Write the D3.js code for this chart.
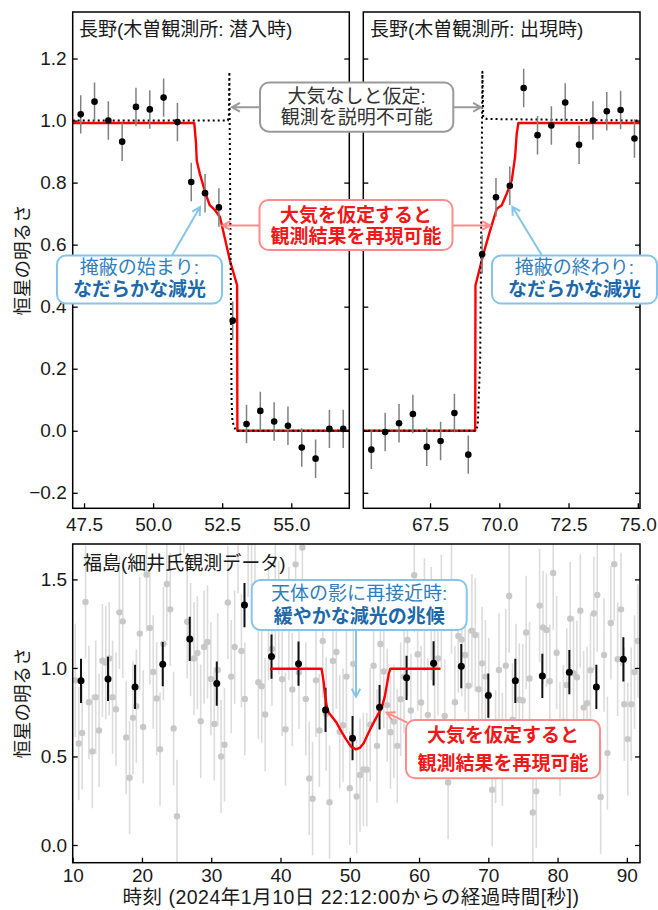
<!DOCTYPE html>
<html><head><meta charset="utf-8">
<script src="https://cdn.jsdelivr.net/npm/d3@7"></script>
<style>
body{margin:0;background:#fff}
svg{display:block}
text{font-family:"Liberation Sans","Noto Sans CJK JP",sans-serif}
</style>
</head><body>
<svg id="c" width="658" height="910"></svg>
<script>
// ---------------- data ----------------
// Nagano (Kiso) ingress
const ingressT = [47.38,47.88,48.38,48.88,49.38,49.88,50.38,50.88,51.38,51.88,52.38,52.88,53.38,53.88,54.38,54.88,55.38,55.88,56.38,56.88];
const ingressY = [1.020,1.061,1.000,0.932,1.044,1.036,1.074,0.995,0.802,0.766,0.720,0.355,0.022,0.064,0.030,0.016,-0.054,-0.090,0.006,0.006];
const ingressErr = [0.062,0.062,0.062,0.062,0.062,0.062,0.062,0.062,0.062,0.062,0.062,0.062,0.062,0.062,0.062,0.062,0.062,0.062,0.062,0.062];
const ingressModelT = [47.09,51.49,51.55,51.58,51.69,51.90,52.05,52.24,52.42,52.78,53.04,53.05,57.10];
const ingressModelV = [0.992,0.992,0.93,0.87,0.829,0.764,0.727,0.711,0.689,0.549,0.469,0.0,0.0];
const ingressNoAtmT = [47.09,52.70,52.74,52.76,52.80,52.84,52.87,52.99,57.10];
const ingressNoAtmV = [1.0,1.0,1.01,1.157,0.6,0.1,0.03,0.0,0.0];
// Nagano (Kiso) egress
const egressT = [65.38,65.88,66.38,66.88,67.38,67.88,68.38,68.88,69.38,69.88,70.38,70.88,71.38,71.88,72.38,72.88,73.38,73.88,74.38,74.88];
const egressY = [-0.061,-0.004,0.024,0.054,-0.052,-0.033,0.057,-0.077,0.569,0.753,0.790,1.105,0.953,0.984,1.058,0.922,1.000,1.030,1.034,0.942];
const egressErr = [0.062,0.062,0.062,0.062,0.062,0.062,0.062,0.062,0.062,0.062,0.062,0.062,0.062,0.062,0.062,0.062,0.062,0.062,0.062,0.062];
const egressModelT = [65.09,69.13,69.14,69.43,69.67,69.91,70.09,70.27,70.45,70.57,70.63,70.69,75.08];
const egressModelV = [0.0,0.0,0.469,0.571,0.646,0.716,0.727,0.765,0.807,0.883,0.958,0.992,0.992];
const egressNoAtmT = [65.09,69.15,69.22,69.31,69.36,69.39,69.42,69.55,75.08];
const egressNoAtmV = [0.0,0.0,0.016,0.23,0.8,1.157,1.01,1.005,1.0];
// Fukushima (Hosoi) raw
const rawT = [10.38,10.87,11.36,11.85,12.34,12.83,13.32,13.81,14.29,14.78,15.27,15.76,16.25,16.74,17.23,17.72,18.21,18.70,19.19,19.68,
20.17,20.66,21.14,21.63,22.12,22.61,23.10,23.59,24.08,24.57,25.06,25.55,26.04,26.53,27.02,27.51,28.00,28.48,28.97,29.46,
29.95,30.44,30.93,31.42,31.91,32.40,32.89,33.38,33.87,34.36,34.85,35.33,35.82,36.31,36.80,37.29,37.78,38.27,38.76,39.25,
39.74,40.23,40.72,41.21,41.70,42.18,42.67,43.16,43.65,44.14,44.63,45.12,45.61,46.10,46.59,47.08,47.57,48.06,48.55,49.03,
49.52,50.01,50.50,50.99,51.48,51.97,52.46,52.95,53.44,53.93,54.42,54.91,55.40,55.88,56.37,56.86,57.35,57.84,58.33,58.82,
59.31,59.80,60.29,60.78,61.27,61.76,62.25,62.73,63.22,63.71,64.20,64.69,65.18,65.67,66.16,66.65,67.14,67.63,68.12,68.61,
69.10,69.58,70.07,70.56,71.05,71.54,72.03,72.52,73.01,73.50,73.99,74.48,74.97,75.46,75.95,76.43,76.92,77.41,77.90,78.39,
78.88,79.37,79.86,80.35,80.84,81.33,81.82,82.31,82.79,83.28,83.77,84.26,84.75,85.24,85.73,86.22,86.71,87.20,87.69,88.18,
88.67,89.16,89.64,90.13,90.62,91.11,91.60];
const rawY = [0.93,0.573,0.633,1.372,0.806,0.528,0.835,0.647,1.041,1.030,1.053,0.835,0.767,1.314,1.263,0.607,0.380,0.718,0.784,1.194,
0.667,1.526,1.226,0.977,0.827,0.541,1.137,1.474,1.331,0.658,0.162,1.92,1.97,1.261,1.16,1.053,1.085,0.699,1.118,1.147,
0.938,0.684,0.989,0.50,0.566,1.370,0.951,1.118,1.74,1.096,0.825,1.72,1.76,1.73,0.919,0.897,0.737,1.25,1.107,1.38,
1.285,0.936,0.654,1.25,0.878,1.585,0.976,1.680,0.825,0.376,0.261,0.93,0.647,1.152,0.74,0.242,1.039,1.09,0.639,0.677,
0.951,0.321,1.023,0.274,0.395,0.427,0.425,0.68,1.013,0.56,1.135,0.98,0.79,0.637,0.697,0.56,0.823,0.951,1.158,0.76,
1.524,1.077,0.805,1.30,0.735,1.25,1.02,1.053,1.32,0.729,0.353,1.40,0.806,1.18,1.16,1.073,0.90,1.21,1.186,0.88,
1.026,0.951,0.85,0.312,0.556,0.989,0.54,1.013,1.406,0.707,0.93,0.82,0.816,1.20,0.94,0.184,0.303,1.352,1.229,1.214,
0.925,1.536,1.086,0.60,0.697,0.904,1.278,0.97,0.947,1.323,0.776,0.801,0.987,1.308,1.412,0.271,1.073,0.519,1.254,1.586,
1.049,1.331,0.795,0.598,0.795,0.977,1.152];
const rawErr = 0.32;
// Fukushima binned
const binT = [11.2,15.1,19.0,23.0,26.9,30.8,34.8,38.7,42.6,46.5,50.4,54.3,58.2,62.1,66.1,70.0,73.9,77.8,81.7,85.6,89.5];
const binY = [0.927,0.938,0.893,1.021,1.164,0.912,1.355,1.064,1.024,0.763,0.603,0.778,0.944,1.026,1.010,0.844,0.927,0.955,0.976,0.893,1.049];
const binErr = 0.125;
const fukuModelT = [38.47,45.93,46.2,46.45,46.7,47.0,47.6,48.1,48.8,49.5,50.2,50.9,51.5,52.0,52.9,53.9,54.6,55.05,55.4,55.65,55.85,63.1];
const fukuModelV = [0.995,0.995,0.93,0.84,0.78,0.745,0.716,0.69,0.64,0.595,0.555,0.54,0.55,0.575,0.65,0.725,0.773,0.838,0.914,0.97,0.995,0.995];
// ticks / labels
const topYTicks = [-0.2,0.0,0.2,0.4,0.6,0.8,1.0,1.2];
const ingressXTicks = [47.5,50.0,52.5,55.0];
const egressXTicks = [67.5,70.0,72.5,75.0];
const botXTicks = [10,20,30,40,50,60,70,80,90];
const botYTicks = [0.0,0.5,1.0,1.5];
const titles = ["長野(木曽観測所: 潜入時)","長野(木曽観測所: 出現時)","福島(細井氏観測データ)"];
const yLabel = "恒星の明るさ";
const xLabel = "時刻 (2024年1月10日 22:12:00からの経過時間[秒])";

// ---------------- drawing ----------------
const svg = d3.select("#c");
const FS = 19;
const TXT = "#1a1a1a";

const yT = d3.scaleLinear().domain([-0.25,1.35]).range([508.3,12]);
const xL = d3.scaleLinear().domain([47.09,57.10]).range([72.7,349.3]);
const xR = d3.scaleLinear().domain([65.09,75.08]).range([363.3,640]);
const xB = d3.scaleLinear().domain([10,91.9]).range([72.7,640]);
const yB = d3.scaleLinear().domain([-0.1,1.7]).range([862.7,544]);

const defs = svg.append("defs");
let clipN = 0;
function makeClip(x, y){
  const id = "clip"+(clipN++);
  const [x0,x1] = x.range(), [y1,y0] = y.range();
  defs.append("clipPath").attr("id",id).append("rect")
    .attr("x",x0).attr("y",y0).attr("width",x1-x0).attr("height",y1-y0);
  return id;
}
function styleAxis(g){
  g.select(".domain").remove();
  g.selectAll(".tick line").attr("stroke","#000").attr("stroke-width",1.3);
  g.selectAll(".tick text").attr("font-size",FS).attr("fill",TXT)
    .attr("font-family",'"Liberation Sans","Noto Sans CJK JP",sans-serif');
}
function axes(x, y, xt, yt, showY, yPad, xPad){
  const [x0,x1] = x.range(), [y1,y0] = y.range();
  const f = d3.format(".1f");
  svg.append("g").attr("transform",`translate(0,${y1})`)
    .call(d3.axisBottom(x).tickValues(xt).tickFormat(xt[0]>=10 && xt[1]-xt[0]===10 ? d3.format("d") : f).tickSize(-5).tickPadding(xPad))
    .call(styleAxis);
  svg.append("g").attr("transform",`translate(${x0},0)`)
    .call(d3.axisLeft(y).tickValues(yt).tickFormat(showY ? f : "").tickSize(-5).tickPadding(yPad))
    .call(styleAxis);
  svg.append("g").attr("transform",`translate(${x1},0)`)
    .call(d3.axisRight(y).tickValues(yt).tickFormat("").tickSize(-5))
    .call(styleAxis);
  svg.append("rect").attr("x",x0).attr("y",y0).attr("width",x1-x0).attr("height",y1-y0)
    .attr("fill","none").attr("stroke","#000").attr("stroke-width",1.5);
}
function line(g, x, y, T, V, color, w, dash){
  const p = g.append("path")
    .attr("d", d3.line().x((d,i)=>x(T[i])).y((d,i)=>y(V[i]))(T))
    .attr("fill","none").attr("stroke",color).attr("stroke-width",w)
    .attr("stroke-linejoin","round");
  if(dash) p.attr("stroke-dasharray",dash);
}
function errPoints(g, x, y, T, V, E, barColor, barW, dotColor, r){
  const err = i => Array.isArray(E) ? E[i] : E;
  g.append("g").selectAll("line").data(T).join("line")
    .attr("x1",(d)=>x(d)).attr("x2",(d)=>x(d))
    .attr("y1",(d,i)=>y(V[i]-err(i))).attr("y2",(d,i)=>y(V[i]+err(i)))
    .attr("stroke",barColor).attr("stroke-width",barW);
  g.append("g").selectAll("circle").data(T).join("circle")
    .attr("cx",(d)=>x(d)).attr("cy",(d,i)=>y(V[i])).attr("r",r).attr("fill",dotColor);
}

// --- top left panel (ingress)
{
  const g = svg.append("g").attr("clip-path",`url(#${makeClip(xL,yT)})`);
  line(g, xL, yT, ingressModelT, ingressModelV, "#ff0000", 2.4);
  line(g, xL, yT, ingressNoAtmT, ingressNoAtmV, "#000", 2, "2,3");
  errPoints(g, xL, yT, ingressT, ingressY, ingressErr, "#808080", 1.5, "#000", 3.3);
  axes(xL, yT, ingressXTicks, topYTicks, true, 6, 9);
}
// --- top right panel (egress)
{
  const g = svg.append("g").attr("clip-path",`url(#${makeClip(xR,yT)})`);
  line(g, xR, yT, egressModelT, egressModelV, "#ff0000", 2.4);
  line(g, xR, yT, egressNoAtmT, egressNoAtmV, "#000", 2, "2,3");
  errPoints(g, xR, yT, egressT, egressY, egressErr, "#808080", 1.5, "#000", 3.3);
  axes(xR, yT, egressXTicks, topYTicks, false, 6, 9);
}
// --- bottom panel (Fukushima)
{
  const g = svg.append("g").attr("clip-path",`url(#${makeClip(xB,yB)})`);
  errPoints(g, xB, yB, rawT, rawY, rawErr, "#dcdcdc", 1.6, "#c8c8c8", 3.2);
  g.append("g").selectAll("line").data(binT).join("line")
    .attr("x1",d=>xB(d)).attr("x2",d=>xB(d))
    .attr("y1",(d,i)=>yB(binY[i]-binErr)).attr("y2",(d,i)=>yB(binY[i]+binErr))
    .attr("stroke","#111").attr("stroke-width",2);
  line(g, xB, yB, fukuModelT, fukuModelV, "#ff0000", 2.4);
  g.append("g").selectAll("circle").data(binT).join("circle")
    .attr("cx",d=>xB(d)).attr("cy",(d,i)=>yB(binY[i])).attr("r",3.5).attr("fill","#000");
  axes(xB, yB, botXTicks, botYTicks, true, 5.5, 6);
}

// titles
svg.append("text").attr("x",79).attr("y",35.5).attr("font-size",FS).attr("fill",TXT).text(titles[0]);
svg.append("text").attr("x",370).attr("y",35.5).attr("font-size",FS).attr("fill",TXT).text(titles[1]);
svg.append("text").attr("x",83).attr("y",569.5).attr("font-size",FS).attr("fill",TXT).text(titles[2]);
// axis labels
[[260],[703]].forEach(([cy])=>{
  svg.append("text").attr("transform",`translate(23,${cy}) rotate(-90)`).attr("dy","0.35em")
    .attr("text-anchor","middle").attr("font-size",18.5).attr("fill",TXT).text(yLabel);
});
svg.append("text").attr("x",351).attr("y",904).attr("text-anchor","middle")
  .attr("font-size",19.5).attr("letter-spacing",0.5).attr("fill",TXT).text(xLabel);

// annotations
function arrow(x1,y1,x2,y2,color){
  const a = Math.atan2(y2-y1,x2-x1), L = 9, th = 0.5;
  svg.append("path")
    .attr("d",`M${x1},${y1}L${x2},${y2}M${x2-L*Math.cos(a-th)},${y2-L*Math.sin(a-th)}L${x2},${y2}L${x2-L*Math.cos(a+th)},${y2-L*Math.sin(a+th)}`)
    .attr("fill","none").attr("stroke",color).attr("stroke-width",2).attr("stroke-linejoin","miter");
}
function box(x,y,w,h,stroke,lines){
  svg.append("rect").attr("x",x).attr("y",y).attr("width",w).attr("height",h)
    .attr("rx",9).attr("ry",9).attr("fill","#fff").attr("stroke",stroke).attr("stroke-width",2);
  lines.forEach(l=>{
    svg.append("text").attr("x",x+w/2).attr("y",l.y).attr("dy","0.36em").attr("text-anchor","middle")
      .attr("font-size",FS).attr("font-weight",l.bold?"bold":"normal").attr("fill",l.color).text(l.t);
  });
}
const GRAY="#9a9a9a", RED_B="#ff8c8c", RED_T="#f01818", BLUE_B="#86c5ea", BLUE1="#2f7fc0", BLUE2="#1b68ab";
arrow(260,107.3,232,107.3,GRAY);
arrow(453.3,107.3,481,107.3,GRAY);
box(260,82.5,193.3,49.2,GRAY,[{t:"大気なしと仮定:",y:96,color:"#333"},{t:"観測を説明不可能",y:117,color:"#333"}]);
arrow(259.5,225.5,222.5,225.5,RED_B);
arrow(452.5,225.5,490,225.5,RED_B);
box(259.5,200,193,50,RED_B,[{t:"大気を仮定すると",y:215,color:RED_T,bold:true},{t:"観測結果を再現可能",y:236.5,color:RED_T,bold:true}]);
arrow(172,255.5,200,207,BLUE_B);
box(57,255.5,165,48,BLUE_B,[{t:"掩蔽の始まり:",y:267,color:BLUE1},{t:"なだらかな減光",y:289,color:BLUE2,bold:true}]);
arrow(541.7,255,512.3,206.7,BLUE_B);
box(492,255.5,165,48,BLUE_B,[{t:"掩蔽の終わり:",y:267,color:BLUE1},{t:"なだらかな減光",y:289,color:BLUE2,bold:true}]);
arrow(356,630,356,696.7,BLUE_B);
box(251.7,580,215,50,BLUE_B,[{t:"天体の影に再接近時:",y:593.5,color:BLUE1},{t:"緩やかな減光の兆候",y:616,color:BLUE2,bold:true}]);
arrow(407.3,722.7,386.7,712.7,RED_B);
box(406,720,194,58.3,RED_B,[{t:"大気を仮定すると",y:735,color:RED_T,bold:true},{t:"観測結果を再現可能",y:763.3,color:RED_T,bold:true}]);
</script>
</body></html>
